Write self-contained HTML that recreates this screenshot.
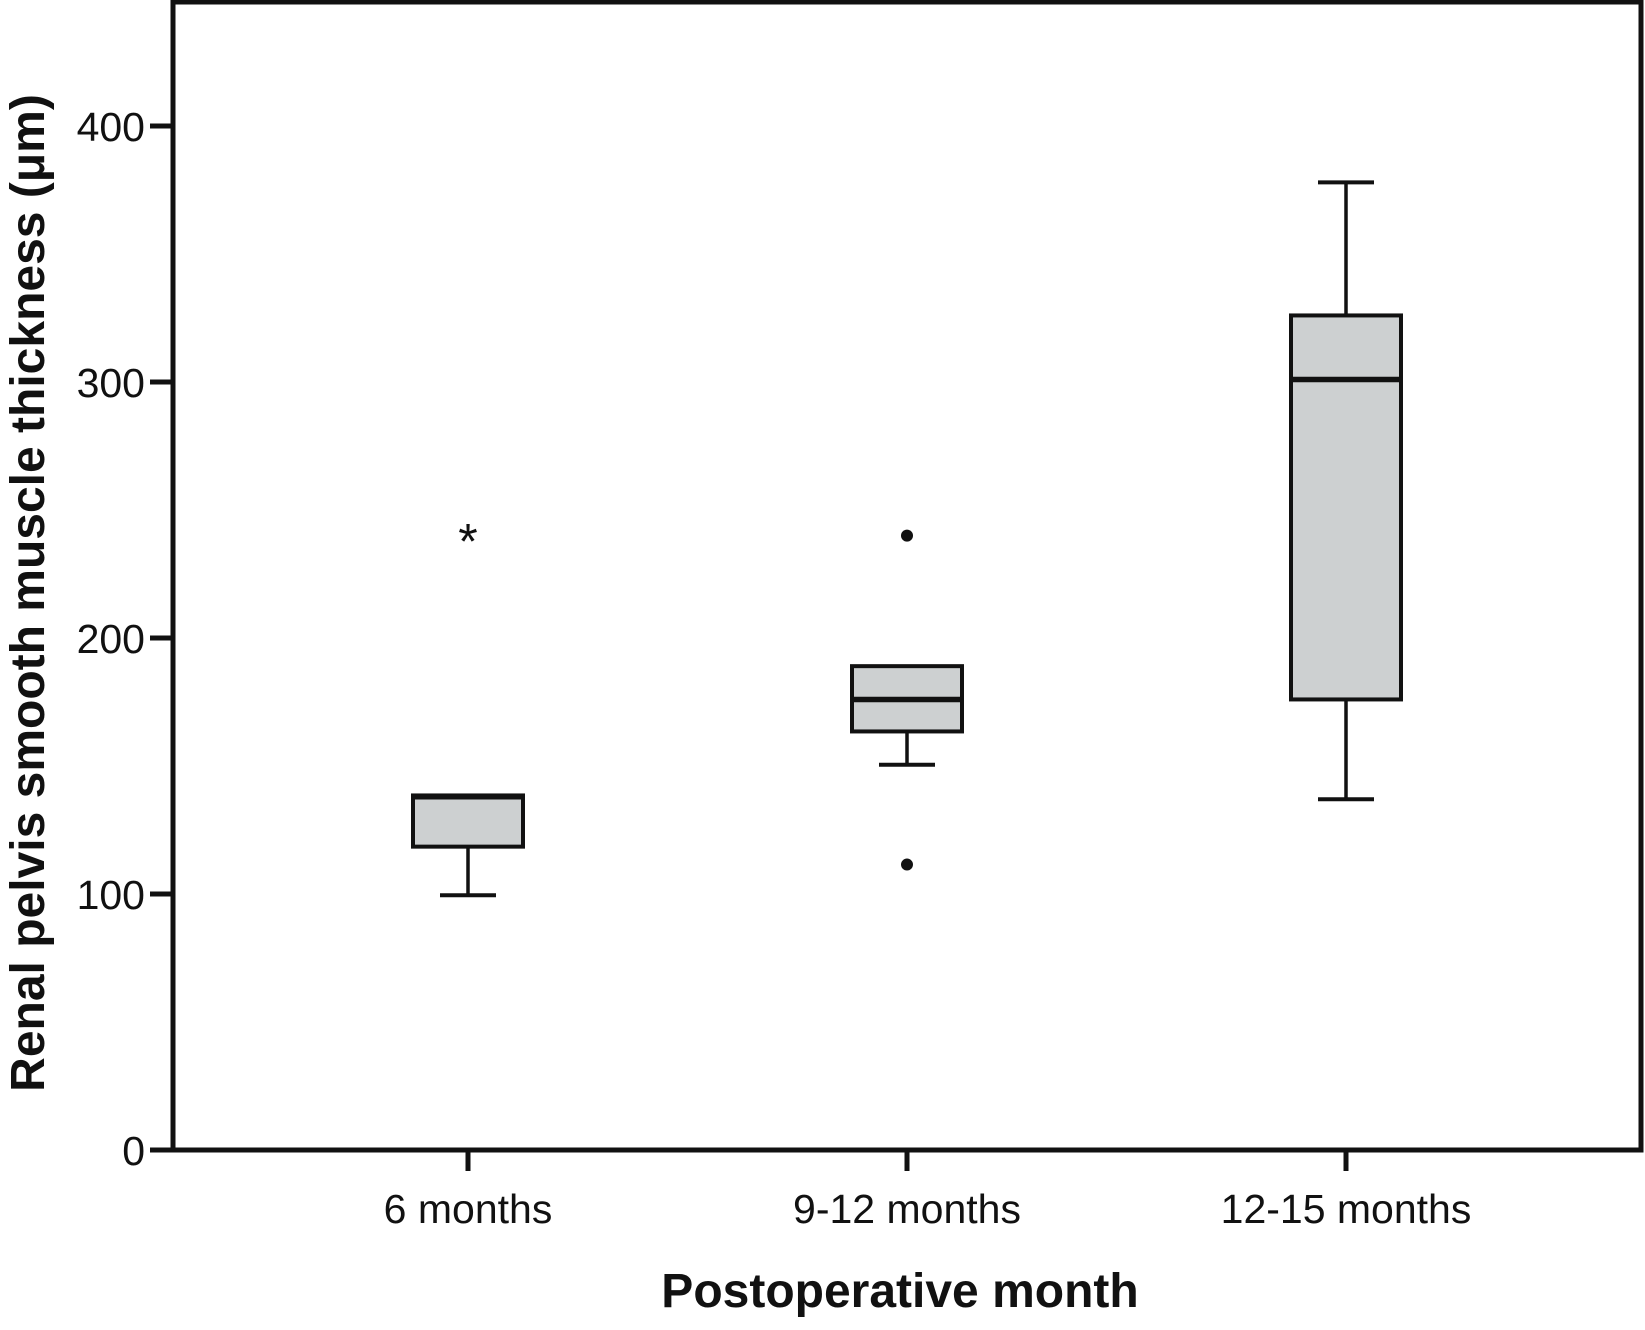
<!DOCTYPE html>
<html><head><meta charset="utf-8"><style>
html,body{margin:0;padding:0;background:#fff;}
svg{display:block;font-family:"Liberation Sans",Arial,sans-serif;}
</style></head><body>
<svg id="chart" width="1645" height="1330" viewBox="0 0 1645 1330" xmlns="http://www.w3.org/2000/svg">
<rect x="173" y="2" width="1468" height="1148" fill="none" stroke="#111" stroke-width="5"/>
<g id="yticks"></g>
<g id="xticks"></g>
<g id="boxes"></g>
<text transform="translate(44,593) rotate(-90)" text-anchor="middle" font-size="48" font-weight="bold" fill="#111">Renal pelvis smooth muscle thickness (μm)</text>
<text x="900" y="1307" text-anchor="middle" font-size="48" font-weight="bold" fill="#111">Postoperative month</text>
</svg>
<script>
const categories = ["6 months", "9-12 months", "12-15 months"];
const whiskerLow = [99.5, 150.5, 137];
const q1 = [118.5, 163.5, 176];
const median = [138, 176, 301];
const q3 = [138.5, 189, 326];
const whiskerHigh = [138.5, 189, 378];
const outlierCat = [0, 1, 1];
const outlierVal = [240.5, 240, 111.5];
const outlierType = ["star", "dot", "dot"];
const yTicks = [0, 100, 200, 300, 400];

const NS = "http://www.w3.org/2000/svg";
function y(v){ return 1150 - v * 2.56; }
function x(i){ return 468 + i * 439; }
function mk(tag, attrs, parent){
  const e = document.createElementNS(NS, tag);
  for (const k in attrs) e.setAttribute(k, attrs[k]);
  parent.appendChild(e); return e;
}
const yg = document.getElementById('yticks');
yTicks.forEach(v => {
  const l = mk('line', {x1:150, x2:173, y1:y(v), y2:y(v), stroke:'#111', 'stroke-width':5}, yg);
  
  
  const t = mk('text', {x:145, y:y(v)+15, 'text-anchor':'end', 'font-size':41, fill:'#111'}, yg);
  t.textContent = v;
  
  
});
const xg = document.getElementById('xticks');
categories.forEach((c, i) => {
  const l = mk('line', {x1:x(i), x2:x(i), y1:1150, y2:1171, stroke:'#111', 'stroke-width':5}, xg);
  
  
  const t = mk('text', {x:x(i), y:1223, 'text-anchor':'middle', 'font-size':41, fill:'#111'}, xg);
  t.textContent = c;
  
  
});
const bg = document.getElementById('boxes');
categories.forEach((c, i) => {
  const g = mk('g', {}, bg);
  
  
  const cx = x(i), hw = 55, cw = 28;
  if (whiskerLow[i] < q1[i]) {
    mk('line', {x1:cx, x2:cx, y1:y(q1[i]), y2:y(whiskerLow[i]), stroke:'#111', 'stroke-width':3.5}, g);
    mk('line', {x1:cx-cw, x2:cx+cw, y1:y(whiskerLow[i]), y2:y(whiskerLow[i]), stroke:'#111', 'stroke-width':4}, g);
  }
  if (whiskerHigh[i] > q3[i] + 0.5) {
    mk('line', {x1:cx, x2:cx, y1:y(q3[i]), y2:y(whiskerHigh[i]), stroke:'#111', 'stroke-width':3.5}, g);
    mk('line', {x1:cx-cw, x2:cx+cw, y1:y(whiskerHigh[i]), y2:y(whiskerHigh[i]), stroke:'#111', 'stroke-width':4}, g);
  }
  mk('rect', {x:cx-hw, y:y(q3[i]), width:2*hw, height:y(q1[i])-y(q3[i]), fill:'#cdd0d1', stroke:'#111', 'stroke-width':4}, g);
  mk('line', {x1:cx-hw, x2:cx+hw, y1:y(median[i]), y2:y(median[i]), stroke:'#111', 'stroke-width':5.5}, g);
});
outlierCat.forEach((ci, k) => {
  let e;
  if (outlierType[k] === 'star') {
    e = mk('text', {x:x(ci), y:y(outlierVal[k])+24, 'text-anchor':'middle', 'font-size':50, fill:'#111'}, bg);
    e.textContent = '*';
  } else {
    e = mk('circle', {cx:x(ci), cy:y(outlierVal[k]), r:6, fill:'#111'}, bg);
  }
  
  
});
</script>
</body></html>
